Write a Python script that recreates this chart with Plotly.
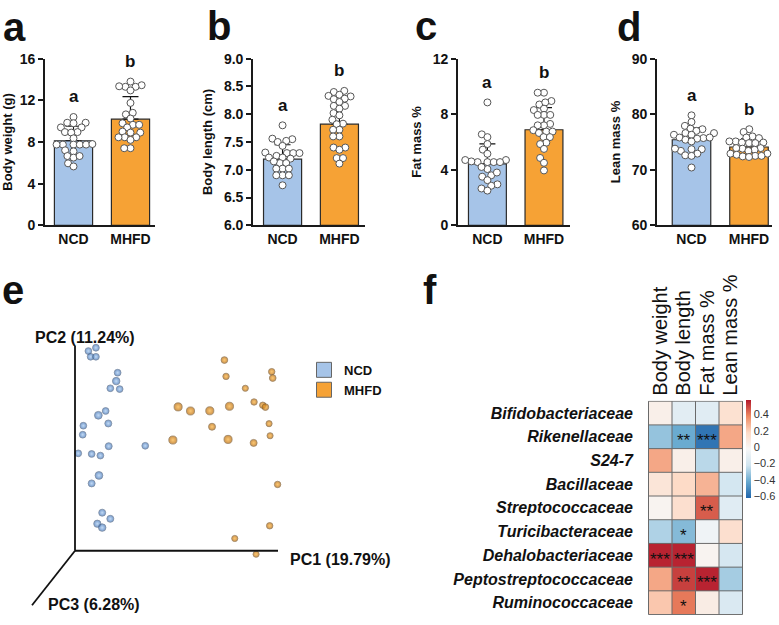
import plotly.graph_objects as go

W, H = 779, 625
FONT = "Liberation Sans, Arial, sans-serif"

# ---------------- data: panels a-d ----------------
groups = ["NCD", "MHFD"]

bw_ncd = [10.4, 9.85, 9.8, 9.85, 9.4, 9.4, 8.95, 8.95, 8.9, 8.35, 7.75, 7.75, 7.75, 7.75, 7.75, 7.8,
          7.1, 7.2, 6.65, 6.5, 6.65, 5.95, 5.65]
bw_mhfd = [13.8, 13.45, 13.3, 13.35, 13.3, 12.95, 11.75, 10.8, 10.65, 10.25, 9.8, 9.65, 9.4, 9.65,
           9.0, 8.9, 8.9, 8.45, 8.45, 8.45, 8.2, 7.4, 7.4]
bw_mean = [8.12, 10.19]
bw_sd = [1.39, 2.17]

bl_ncd = [7.8, 7.55, 7.52, 7.56, 7.5, 7.43, 7.3, 7.3, 7.25, 7.31, 7.3, 7.22, 7.22, 7.2, 7.12, 7.15,
          7.12, 7.02, 7.02, 7.02, 6.9, 6.9, 6.9, 6.72]
bl_mhfd = [8.42, 8.4, 8.35, 8.32, 8.33, 8.27, 8.28, 8.22, 8.15, 8.15, 8.1, 8.02, 7.98, 7.9, 7.83,
           7.82, 7.72, 7.72, 7.6, 7.6, 7.4, 7.4, 7.36, 7.21, 7.21, 7.11]
bl_mean = [7.19, 7.82]
bl_sd = [0.26, 0.43]

fm_ncd = [8.85, 6.55, 6.35, 5.85, 5.45, 5.15, 4.7, 4.55, 4.55, 4.55, 4.55, 4.6, 4.7, 4.05, 3.6,
          3.8, 3.5, 2.95, 2.85, 2.65, 2.5, 3.25, 4.2]
fm_mhfd = [9.55, 9.55, 8.95, 8.7, 8.85, 8.4, 8.3, 7.95, 7.95, 7.95, 7.3, 7.2, 7.2, 6.75, 6.75, 6.85,
           6.65, 6.35, 6.35, 5.95, 5.85, 5.5, 4.85, 4.5, 3.95]
fm_mean = [4.43, 6.88]
fm_sd = [1.44, 1.60]

lm_ncd = [79.8, 78.6, 77.9, 77.4, 77.3, 77.0, 76.6, 76.6, 76.3, 76.3, 75.8, 75.7, 75.8, 75.6, 75.4,
          75.1, 73.7, 73.7, 73.4, 73.8, 72.9, 72.6, 72.5, 70.4]
lm_mhfd = [77.3, 76.8, 76.0, 75.7, 75.8, 75.1, 74.9, 74.9, 74.8, 74.8, 75.1, 73.8, 73.9, 73.9, 73.6,
           73.4, 72.9, 72.9, 72.7, 72.5, 72.4, 72.3, 72.5]
lm_mean = [75.4, 74.1]
lm_sd = [2.15, 1.45]

sig_letters = [["a", "b"], ["a", "b"], ["a", "b"], ["a", "b"]]
y_titles = ["Body weight (g)", "Body length (cm)", "Fat mass %", "Lean mass %"]
y_ranges = [[0, 16], [6, 9], [0, 12], [60, 90]]
y_ticks = [[0, 4, 8, 12, 16], [6.0, 6.5, 7.0, 7.5, 8.0, 8.5, 9.0], [0, 4, 8, 12], [60, 70, 80, 90]]

# ---------------- data: panel e (PCoA, projected) ----------------
ncd_pc1 = [0.066, 0.103, 0.077, 0.103, 0.210, 0.203, 0.174, 0.220, 0.151, 0.115, 0.164, 0.041,
           0.038, 0.166, 0.346, 0.016, 0.082, 0.125, 0.118, 0.082, 0.134, 0.174, 0.110, 0.134]
ncd_pc2 = [0.976, 0.992, 0.948, 0.948, 0.870, 0.829, 0.794, 0.790, 0.683, 0.662, 0.622, 0.611,
           0.567, 0.511, 0.513, 0.476, 0.473, 0.465, 0.368, 0.329, 0.186, 0.156, 0.132, 0.113]
ncd_pc3 = [0.3, 0.3, 0.3, 0.3, 0.3, 0.6, 0.3, 0.3, 0.3, 0.7, 0.4, 0.3,
           0.3, 0.4, 0.3, 0.3, 0.3, 0.3, 0.7, 0.4, 0.4, 0.4, 0.5, 0.6]
mhfd_pc1 = [0.736, 0.969, 0.974, 0.744, 0.839, 0.508, 0.569, 0.664, 0.761, 0.882, 0.925, 0.938,
            0.956, 0.675, 0.961, 0.482, 0.754, 0.880, 0.998, 0.959, 0.787, 0.892]
mhfd_pc2 = [0.932, 0.875, 0.844, 0.852, 0.794, 0.703, 0.683, 0.684, 0.706, 0.727, 0.711, 0.702,
            0.621, 0.606, 0.562, 0.541, 0.544, 0.527, 0.324, 0.122, 0.060, -0.017]
mhfd_pc3 = [0.4, 0.3, 0.4, 0.3, 0.2, 0.9, 0.9, 0.9, 0.9, 0.3, 0.3, 0.4,
            0.2, 0.5, 0.2, 0.9, 0.9, 0.5, 0.3, 0.3, 0.2, 0.2]
pc_labels = ["PC1 (19.79%)", "PC2 (11.24%)", "PC3 (6.28%)"]

# ---------------- data: panel f (correlation heatmap) ----------------
traits = ["Body weight", "Body length", "Fat mass %", "Lean mass %"]
families = ["Bifidobacteriaceae", "Rikenellaceae", "S24-7", "Bacillaceae", "Streptococcaceae",
            "Turicibacteraceae", "Dehalobacteriaceae", "Peptostreptococcaceae", "Ruminococcaceae"]
corr = [
    [0.03, -0.14, -0.15, 0.13],
    [-0.34, -0.42, -0.58, 0.30],
    [0.30, 0.03, -0.27, 0.03],
    [0.10, 0.17, 0.27, -0.21],
    [0.00, 0.14, 0.45, -0.15],
    [-0.29, -0.37, -0.07, 0.14],
    [0.55, 0.55, 0.00, -0.20],
    [0.30, 0.50, 0.55, -0.31],
    [0.22, 0.40, 0.05, -0.18],
]
stars = [
    ["", "", "", ""],
    ["", "**", "***", ""],
    ["", "", "", ""],
    ["", "", "", ""],
    ["", "", "**", ""],
    ["", "*", "", ""],
    ["***", "***", "", ""],
    ["", "**", "***", ""],
    ["", "*", "", ""],
]
cbar_ticks = [-0.6, -0.4, -0.2, 0, 0.2, 0.4]

# ---------------- styles ----------------
BLUE = "#A6C4E8"
ORANGE = "#F6A235"
AX = "#1a1a1a"


def px2x(px):
    return px / W


def py2y(py):
    return 1 - py / H


def swarm(vals, ypx, d=7.0, xpx=57.0):
    placed = []
    offs = [0.0] * len(vals)
    order = sorted(range(len(vals)), key=lambda i: vals[i])
    for i in order:
        y = vals[i] * ypx
        cands = [0.0]
        ints = []
        for (px, py) in placed:
            dy = abs(py - y)
            if dy < d:
                h = (d * d - dy * dy) ** 0.5
                ints.append((px - h, px + h))
                cands += [px - h, px + h]
        cands.sort(key=lambda c: (abs(c), c))
        x = 0.0
        for c in cands:
            if all(not (a + 1e-6 < c < b - 1e-6) for a, b in ints):
                x = c
                break
        placed.append((x, y))
        offs[i] = x / xpx
    return offs


fig = go.Figure()
layout = dict(
    width=W, height=H, margin=dict(l=0, r=0, t=0, b=0),
    paper_bgcolor="white", plot_bgcolor="rgba(0,0,0,0)",
    font=dict(family=FONT, color=AX),
    showlegend=True,
)
annotations = []
shapes = []

panels = [
    (bw_ncd, bw_mhfd, bw_mean, bw_sd),
    (bl_ncd, bl_mhfd, bl_mean, bl_sd),
    (fm_ncd, fm_mhfd, fm_mean, fm_sd),
    (lm_ncd, lm_mhfd, lm_mean, lm_sd),
]
x_doms = [(45, 155), (253, 365), (458, 570), (657, 772)]
x_rngs = [[-0.5, 1.43], [-0.52, 1.45], [-0.52, 1.46], [-0.6, 1.40]]
letters_xy = [("a", 1, 19), ("b", 205, 18), ("c", 413, 18), ("d", 615, 19)]
top_py, bot_py = 52, 223

for k, (g0, g1, mean, sd) in enumerate(panels):
    n = "" if k == 0 else str(k + 1)
    xa, ya = "x" + n, "y" + n
    x0, x1 = x_doms[k]
    yr = y_ranges[k]
    ypx = (bot_py - top_py) / (yr[1] - yr[0])
    xpx = (x1 - x0) / (x_rngs[k][1] - x_rngs[k][0])
    fig.add_trace(go.Bar(
        x=[0, 1], y=[m - yr[0] for m in mean], base=yr[0], width=0.67,
        marker=dict(color=[BLUE, ORANGE], line=dict(color="#2a2a2a", width=1.2)),
        error_y=dict(type="data", symmetric=False, array=sd, arrayminus=[0, 0],
                     color="#111", thickness=1.2, width=8),
        xaxis=xa, yaxis=ya, showlegend=False, hoverinfo="skip"))
    for gi, vals in enumerate([g0, g1]):
        offs = swarm([v - yr[0] for v in vals], ypx, d=6.3, xpx=xpx)
        fig.add_trace(go.Scatter(
            x=[gi + o for o in offs], y=vals, mode="markers",
            marker=dict(size=7, color="white", line=dict(color="#555", width=1)),
            xaxis=xa, yaxis=ya, showlegend=False, hoverinfo="skip"))
        annotations.append(dict(
            x=gi, y=max(vals), xref=xa, yref=ya, text="<b>%s</b>" % sig_letters[k][gi],
            showarrow=False, yshift=20, yanchor="middle",
            font=dict(size=17, family=FONT, color="#111")))
    layout["xaxis" + n] = dict(
        domain=[px2x(x0), px2x(x1)], range=x_rngs[k], anchor=ya,
        tickvals=[0, 1], ticktext=["<b>%s</b>" % g for g in groups], ticks="",
        tickfont=dict(size=14, color="#111"), showline=True, linecolor=AX, linewidth=1.6,
        showgrid=False, zeroline=False, fixedrange=True)
    layout["yaxis" + n] = dict(
        domain=[py2y(bot_py), py2y(top_py)], range=yr, anchor=xa,
        tickvals=y_ticks[k],
        ticktext=["<b>%s</b>" % (("%.1f" % t) if k == 1 else ("%g" % t)) for t in y_ticks[k]],
        ticks="outside", ticklen=5, tickwidth=1.6, tickcolor=AX,
        tickfont=dict(size=14, color="#111"), showline=True, linecolor=AX, linewidth=1.6,
        showgrid=False, zeroline=False, fixedrange=True,
        title=dict(text="<b>%s</b>" % y_titles[k], font=dict(size=13, color="#111"), standoff=8))
    lt, lx, ly = letters_xy[k]
    annotations.append(dict(x=px2x(lx), y=py2y(ly), xref="paper", yref="paper",
                            xanchor="left", yanchor="middle", showarrow=False,
                            text="<b>%s</b>" % lt, font=dict(size=40, family=FONT, color="#111")))

# ---------------- panel e ----------------
ox, oy, sx, sy = 75.0, 557.0, 203.0, 210.0
ex_rng = [(0 - ox) / sx, (400 - ox) / sx]
ey_rng = [(oy - 625) / sy, (oy - 300) / sy]
layout["xaxis5"] = dict(domain=[0, px2x(400)], range=ex_rng, anchor="y5", visible=False,
                        fixedrange=True)
layout["yaxis5"] = dict(domain=[0, py2y(300)], range=ey_rng, anchor="x5", visible=False,
                        fixedrange=True)
pc3_dir = ((32 - ox) / sx, (oy - 613) / sy)
for (xe, ye) in [(1, 0), (0, 1), pc3_dir]:
    shapes.append(dict(type="line", xref="x5", yref="y5", x0=0, y0=0, x1=xe, y1=ye,
                       line=dict(color="#111", width=1.8)))

fig.add_trace(go.Scatter(
    x=ncd_pc1, y=ncd_pc2, mode="markers", xaxis="x5", yaxis="y5", showlegend=False,
    hoverinfo="skip",
    marker=dict(size=[6.0 + 2.5 * d for d in ncd_pc3], color="#3A70B8",
                gradient=dict(type="radial", color="#A9CBF0"),
                line=dict(color="#4a5d78", width=0.8))))
fig.add_trace(go.Scatter(
    x=mhfd_pc1, y=mhfd_pc2, mode="markers", xaxis="x5", yaxis="y5", showlegend=False,
    hoverinfo="skip",
    marker=dict(size=[5.6 + 2.8 * d for d in mhfd_pc3], color="#B86500",
                gradient=dict(type="radial", color="#FBB23A"),
                line=dict(color="#6e5128", width=0.8))))
for name, col in zip(groups, [BLUE, ORANGE]):
    fig.add_trace(go.Scatter(
        x=[None], y=[None], mode="markers", name=name, xaxis="x5", yaxis="y5",
        marker=dict(symbol="square", size=15, color=col, line=dict(color="#666", width=1))))
layout["legend"] = dict(x=px2x(304), y=py2y(356), xanchor="left", yanchor="top",
                        font=dict(size=13, color="#111", weight="bold"),
                        bgcolor="rgba(0,0,0,0)", tracegroupgap=0, itemclick=False)

annotations += [
    dict(x=px2x(340), y=py2y(566), xref="paper", yref="paper", xanchor="center", yanchor="middle",
         showarrow=False, text="<b>%s</b>" % pc_labels[0], font=dict(size=16, color="#111")),
    dict(x=px2x(85), y=py2y(338), xref="paper", yref="paper", xanchor="center", yanchor="middle",
         showarrow=False, text="<b>%s</b>" % pc_labels[1], font=dict(size=16, color="#111")),
    dict(x=px2x(94), y=py2y(612), xref="paper", yref="paper", xanchor="center", yanchor="middle",
         showarrow=False, text="<b>%s</b>" % pc_labels[2], font=dict(size=16, color="#111")),
    dict(x=px2x(0), y=py2y(289), xref="paper", yref="paper", xanchor="left", yanchor="middle",
         showarrow=False, text="<b>e</b>", font=dict(size=40, color="#111")),
    dict(x=px2x(421), y=py2y(289), xref="paper", yref="paper", xanchor="left", yanchor="middle",
         showarrow=False, text="<b>f</b>", font=dict(size=40, color="#111")),
]

# ---------------- panel f ----------------
zmin, zmax = -0.625, 0.57
rdbu = ["#2166AC", "#67A9CF", "#D1E5F0", "#F7F7F7", "#FDDBC7", "#EF8A62", "#B2182B"]
cscale = [[i / (len(rdbu) - 1), c] for i, c in enumerate(rdbu)]
fig.add_trace(go.Heatmap(
    z=corr, x=traits, y=families, xaxis="x6", yaxis="y6", zmin=zmin, zmax=zmax,
    colorscale=cscale, showscale=True, hoverinfo="skip",
    colorbar=dict(x=px2x(746), xanchor="left", xpad=0, thickness=5, lenmode="pixels", len=98,
                  y=py2y(453), yanchor="middle", ypad=0, outlinewidth=0, ticks="",
                  tickvals=cbar_ticks,
                  ticktext=[("\u2212%g" % -t) if t < 0 else "%g" % t for t in cbar_ticks],
                  tickfont=dict(size=11, color="#333"))))
layout["xaxis6"] = dict(domain=[px2x(648), px2x(743)], anchor="y6", side="top", tickangle=-90,
                        tickmode="array", tickvals=traits, ticktext=traits,
                        ticks="", tickfont=dict(size=20, color="#111"), showgrid=False,
                        zeroline=False, showline=False, fixedrange=True, ticklabelstandoff=4)
layout["yaxis6"] = dict(domain=[py2y(623), py2y(403)], anchor="x6", autorange="reversed",
                        tickmode="array", tickvals=families, ticktext=families,
                        ticks="", tickfont=dict(size=16, color="#111", weight="bold",
                                                style="italic"),
                        showgrid=False, zeroline=False, showline=False, fixedrange=True,
                        ticklabelstandoff=14)
for i in range(len(traits) + 1):
    shapes.append(dict(type="line", xref="x6", yref="y6", x0=i - 0.5, x1=i - 0.5,
                       y0=-0.5, y1=len(families) - 0.5, line=dict(color="#6a6a6a", width=1)))
for j in range(len(families) + 1):
    shapes.append(dict(type="line", xref="x6", yref="y6", x0=-0.5, x1=len(traits) - 0.5,
                       y0=j - 0.5, y1=j - 0.5, line=dict(color="#6a6a6a", width=1)))
for r, fam in enumerate(families):
    for c, tr in enumerate(traits):
        if stars[r][c]:
            annotations.append(dict(x=tr, y=fam, xref="x6", yref="y6", text=stars[r][c],
                                    showarrow=False, yshift=-4,
                                    font=dict(size=17, color="#111")))

layout["annotations"] = annotations
layout["shapes"] = shapes
fig.update_layout(**layout)
fig.write_html("out.html", config={"displayModeBar": False},
               post_script="document.body.style.margin='0';document.body.style.padding='0';"
                           "document.body.style.overflow='hidden';")
